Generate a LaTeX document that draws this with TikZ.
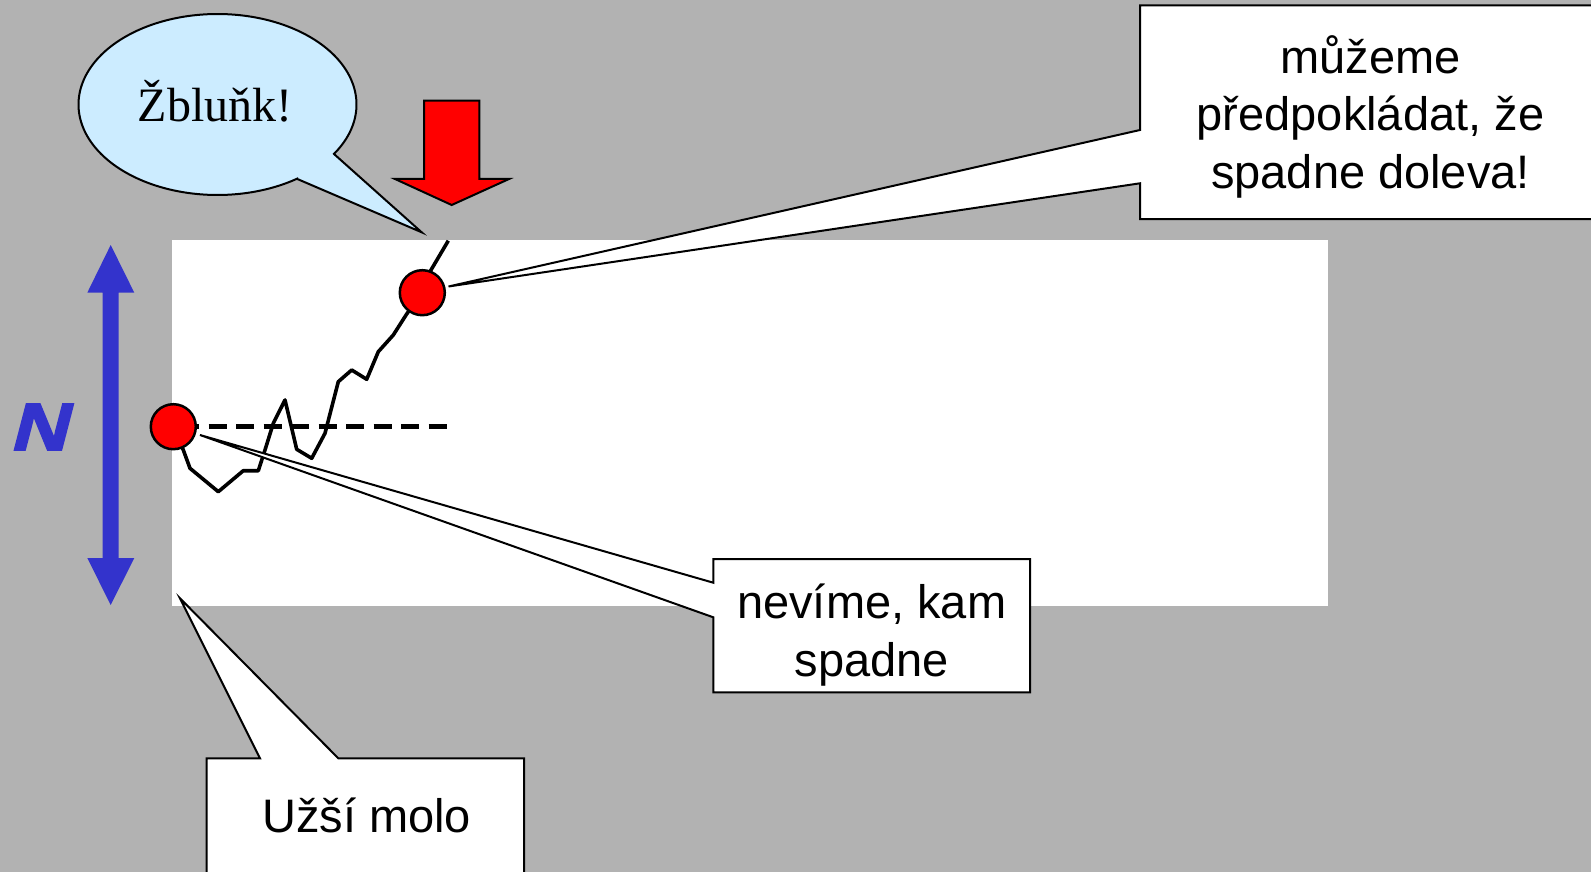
\documentclass[tikz,border=0pt]{standalone}
\usepackage{fontspec}
\setmainfont{Liberation Sans}
\newfontfamily\bubblefont{Liberation Serif}
\newfontfamily\nfont[FakeBold=2.5,FakeSlant=0.22]{Liberation Sans Bold}
\definecolor{bg}{RGB}{178,178,178}
\definecolor{nblue}{RGB}{51,51,204}
\definecolor{bubble}{RGB}{204,236,255}
\begin{document}
\begin{tikzpicture}[x=1pt,y=-1pt,
  calloutline/.style={draw=black,fill=white,line width=2,line join=miter},
  calltext/.style={align=center,inner sep=0,font=\fontsize{47}{57.5}\selectfont},
  dot/.style={circle,fill=red,draw=black,line width=2.5,minimum size=45,inner sep=0},
  walk/.style={line width=3.6,line join=round},
]
\useasboundingbox (0,0) rectangle (1591,872);
\clip (0,0) rectangle (1591,872);
\fill[bg] (0,0) rectangle (1591,872);
% white field
\fill[white] (172,240) rectangle (1328,606);

% blue double arrow
\fill[nblue] (110.7,245) -- (134.3,292.7) -- (118.7,292.7) -- (118.7,558) -- (134.3,558)
  -- (110.7,605) -- (87.3,558) -- (102.7,558) -- (102.7,292.7) -- (87.3,292.7) -- cycle;
\node[anchor=base,inner sep=0,text=nblue,font=\nfont\fontsize{67}{67}\selectfont,xscale=1.18] (N) at (38,450) {N};

% points
\coordinate (pL) at (173.3,426.7);
\coordinate (pT) at (422.3,292.7);
\coordinate (dashend) at (446.7,426.7);
\coordinate (walkend) at (448.3,240.7);

% dashed level
\draw[line width=4.5,dash pattern=on 18 off 9.5,dash phase=19.6] (pL) -- (dashend);

% random walk
\draw[walk] (pL) -- (183.3,450) -- (190,468.3) -- (218.3,491.7) -- (243.3,470.7) -- (258.3,470.7)
  -- (265,450) -- (273.3,423.3) -- (285,400) -- (296.7,449.3) -- (311.7,458.3) -- (325,433.3)
  -- (338.3,381.7) -- (351.7,370) -- (366.7,379.3) -- (378.3,351.7) -- (393.3,335) -- (406.7,314)
  -- (pT) -- (430,271.7) -- (walkend);

% red dots
\node[dot] (cL) at (pL) {};
\node[dot] (cT) at (pT) {};

% red down arrow
\draw[fill=red,line width=2,line join=miter] (424,100.7) -- (479.3,100.7) -- (479.3,179) -- (509,179)
  -- (451.7,205) -- (395,179) -- (424,179) -- cycle;

% speech bubble
\coordinate (bubtip) at (421.7,232.3);
\draw[fill=bubble,line width=2,line join=miter] (334,154) -- (bubtip) -- (297.3,179)
  -- plot[domain=55:393.1,samples=120,smooth] ({217.5+139*cos(\x)},{104.5+90.5*sin(\x)}) -- cycle;
\node[inner sep=0,anchor=base,font=\bubblefont\fontsize{48}{48}\selectfont] (zbl) at (215,121.7) {Žbluňk!};

% top-right callout
\coordinate (tipT) at (448.5,286.5);
\draw[calloutline] (1140,5.3) -- (1610,5.3) -- (1610,219) -- (1140,219) -- (1140,183.3)
  -- (tipT) -- (1140,130) -- cycle;
\node[calltext] (tr) at (1370.5,116.5) {můžeme\\předpokládat, že\\spadne doleva!};

% middle callout
\coordinate (tipL) at (200,435);
\draw[calloutline] (713.3,559) -- (1030,559) -- (1030,692.3) -- (713.3,692.3) -- (713.3,617.3)
  -- (tipL) -- (713.3,582.7) -- cycle;
\node[calltext] (mid) at (871.7,635) {nevíme, kam\\spadne};

% bottom callout
\coordinate (tipB) at (180,598.3);
\draw[calloutline] (206.7,758.3) -- (260,758.3) -- (tipB) -- (338.3,758.3) -- (524,758.3)
  -- (524,900) -- (206.7,900) -- cycle;
\node[calltext,anchor=base] (molo) at (366.7,832.7) {Užší molo};
\end{tikzpicture}
\end{document}
